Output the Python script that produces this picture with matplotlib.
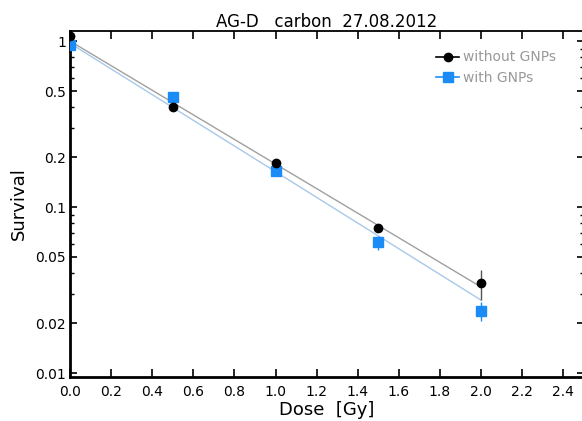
import matplotlib
matplotlib.use("Agg")
import matplotlib.pyplot as plt
from matplotlib.ticker import FixedLocator, FixedFormatter, LogLocator, NullFormatter

# measured survival fractions
dose = [0.0, 0.5, 1.0, 1.5, 2.0]
surv_without = [1.08, 0.402, 0.183, 0.0744, 0.0347]
err_without = [0.0, 0.006, 0.006, 0.004, 0.007]
surv_with = [0.95, 0.462, 0.1655, 0.0612, 0.0236]
err_with = [0.0, 0.008, 0.008, 0.006, 0.003]

# fitted curves (straight in log scale)
fit_dose = [0.0, 2.0]
fit_without = [1.0, 0.033]
fit_with = [0.97, 0.0275]

ytick_vals = [1, 0.5, 0.2, 0.1, 0.05, 0.02, 0.01]
ytick_labels = ["1", "0.5", "0.2", "0.1", "0.05", "0.02", "0.01"]
xtick_vals = [0.0, 0.2, 0.4, 0.6, 0.8, 1.0, 1.2, 1.4, 1.6, 1.8, 2.0, 2.2, 2.4]

BLUE = "#1b8cf5"

fig = plt.figure(figsize=(5.82, 4.21), dpi=100)
ax = fig.add_axes([0.1203, 0.1045, 0.8827, 0.8219])

ax.plot(fit_dose, fit_without, color="#a0a0a0", lw=1.0, zorder=2)
ax.plot(fit_dose, fit_with, color="#a8c8ea", lw=1.0, zorder=2)

ax.errorbar(dose, surv_without, yerr=err_without, fmt="o", color="black",
            ecolor="#555555", elinewidth=1.0, capsize=0, markersize=6, zorder=4)
ax.errorbar(dose, surv_with, yerr=err_with, fmt="s", color=BLUE,
            ecolor=BLUE, elinewidth=1.0, capsize=0, markersize=6.5, zorder=3)

ax.set_yscale("log")
ax.set_xlim(0, 2.5)
ax.set_ylim(0.00946, 1.15)

ax.xaxis.set_major_locator(FixedLocator(xtick_vals))
ax.set_xticklabels([f"{v:.1f}" for v in xtick_vals])
ax.yaxis.set_major_locator(FixedLocator(ytick_vals))
ax.yaxis.set_major_formatter(FixedFormatter(ytick_labels))
ax.yaxis.set_minor_locator(LogLocator(base=10, subs=range(2, 10)))
ax.yaxis.set_minor_formatter(NullFormatter())

ax.tick_params(axis="x", which="major", direction="in", top=True, length=6, width=1.2,
               labelsize=10, pad=6)
ax.tick_params(axis="y", which="major", direction="in", right=True, length=5, width=1.2,
               labelsize=10, pad=3)
ax.tick_params(axis="y", which="minor", direction="in", right=True, length=3, width=1.0)

ax.spines["left"].set_linewidth(2.0)
ax.spines["bottom"].set_linewidth(2.0)
ax.spines["top"].set_linewidth(1.3)
ax.spines["right"].set_visible(False)

ax.set_xlabel("Dose  [Gy]", fontsize=13, labelpad=1)
ax.set_ylabel("Survival", fontsize=13, labelpad=5)
ax.set_title("AG-D   carbon  27.08.2012", fontsize=12, pad=3)

h1, = ax.plot([], [], "-o", color="black", markersize=6, lw=1.2)
h2, = ax.plot([], [], "-s", color=BLUE, markersize=6.5, lw=1.2)
leg = ax.legend([h1, h2], ["without GNPs", "with GNPs"], loc="upper right",
                bbox_to_anchor=(0.97, 0.98), frameon=False, fontsize=10,
                handlelength=1.6, handletextpad=0.3, labelspacing=0.5)
for t in leg.get_texts():
    t.set_color("#999999")

fig.savefig("out.png", dpi=100)
